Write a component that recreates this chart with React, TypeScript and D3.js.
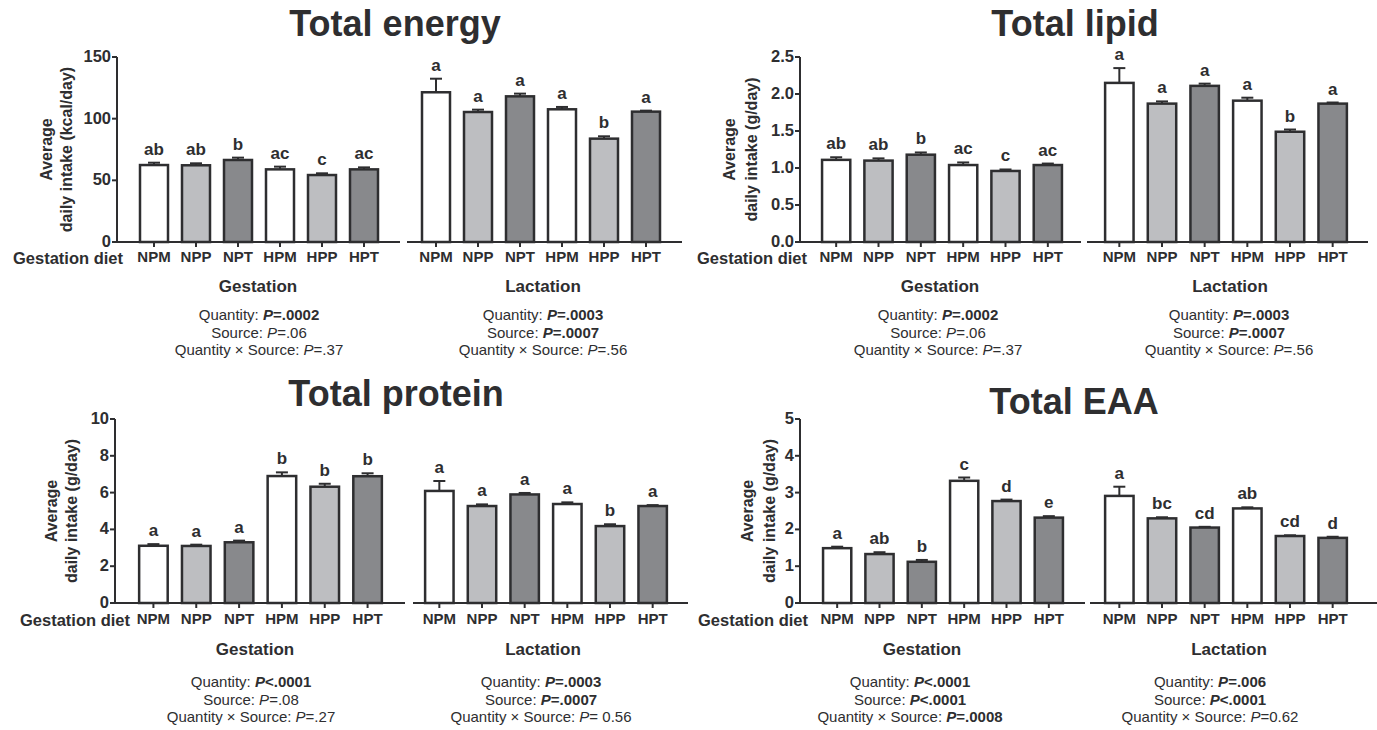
import React from "react";
import * as d3 from "d3";

// diet groups on the x axis
const categories = ["NPM", "NPP", "NPT", "HPM", "HPP", "HPT"];
const barFills = ["#ffffff", "#bdbec1", "#88898c", "#ffffff", "#bdbec1", "#88898c"];

// Total energy (kcal/day)
const energyGestMean = [62.4, 62.2, 66.5, 58.9, 54.3, 58.9];
const energyGestSem = [1.9, 1.6, 1.9, 2.2, 1.4, 1.6];
const energyGestLetters = ["ab", "ab", "b", "ac", "c", "ac"];
const energyLactMean = [121.4, 105.4, 118.1, 107.6, 83.8, 105.7];
const energyLactSem = [11.0, 1.9, 2.2, 1.9, 1.9, 0.8];
const energyLactLetters = ["a", "a", "a", "a", "b", "a"];
const energyTicks = [0, 50, 100, 150];

// Total lipid (g/day)
const lipidGestMean = [1.11, 1.1, 1.18, 1.04, 0.96, 1.04];
const lipidGestSem = [0.035, 0.03, 0.03, 0.035, 0.02, 0.02];
const lipidGestLetters = ["ab", "ab", "b", "ac", "c", "ac"];
const lipidLactMean = [2.15, 1.87, 2.11, 1.91, 1.49, 1.87];
const lipidLactSem = [0.2, 0.03, 0.03, 0.04, 0.03, 0.015];
const lipidLactLetters = ["a", "a", "a", "a", "b", "a"];
const lipidTicks = [0, 0.5, 1.0, 1.5, 2.0, 2.5];

// Total protein (g/day)
const proteinGestMean = [3.11, 3.1, 3.3, 6.9, 6.32, 6.89];
const proteinGestSem = [0.09, 0.07, 0.09, 0.2, 0.16, 0.16];
const proteinGestLetters = ["a", "a", "a", "b", "b", "b"];
const proteinLactMean = [6.09, 5.27, 5.9, 5.38, 4.18, 5.27];
const proteinLactSem = [0.54, 0.09, 0.08, 0.09, 0.1, 0.05];
const proteinLactLetters = ["a", "a", "a", "a", "b", "a"];
const proteinTicks = [0, 2, 4, 6, 8, 10];

// Total EAA (g/day)
const eaaGestMean = [1.49, 1.33, 1.12, 3.32, 2.77, 2.32];
const eaaGestSem = [0.04, 0.05, 0.05, 0.09, 0.04, 0.04];
const eaaGestLetters = ["a", "ab", "b", "c", "d", "e"];
const eaaLactMean = [2.91, 2.3, 2.05, 2.57, 1.82, 1.77];
const eaaLactSem = [0.25, 0.03, 0.02, 0.03, 0.02, 0.03];
const eaaLactLetters = ["a", "bc", "cd", "ab", "cd", "d"];
const eaaTicks = [0, 1, 2, 3, 4, 5];

// stats lines: [label, value after "P", significant]
const energyGestStats = [["Quantity:", "=.0002", true], ["Source:", "=.06", false], ["Quantity \u00d7 Source:", "=.37", false]];
const energyLactStats = [["Quantity:", "=.0003", true], ["Source:", "=.0007", true], ["Quantity \u00d7 Source:", "=.56", false]];
const lipidGestStats = [["Quantity:", "=.0002", true], ["Source:", "=.06", false], ["Quantity \u00d7 Source:", "=.37", false]];
const lipidLactStats = [["Quantity:", "=.0003", true], ["Source:", "=.0007", true], ["Quantity \u00d7 Source:", "=.56", false]];
const proteinGestStats = [["Quantity:", "<.0001", true], ["Source:", "=.08", false], ["Quantity \u00d7 Source:", "=.27", false]];
const proteinLactStats = [["Quantity:", "=.0003", true], ["Source:", "=.0007", true], ["Quantity \u00d7 Source:", "= 0.56", false]];
const eaaGestStats = [["Quantity:", "<.0001", true], ["Source:", "<.0001", true], ["Quantity \u00d7 Source:", "=.0008", true]];
const eaaLactStats = [["Quantity:", "=.006", true], ["Source:", "<.0001", true], ["Quantity \u00d7 Source:", "=0.62", false]];

const INK = "#2e2e30";
const FONT = "'Liberation Sans', Arial, Helvetica, sans-serif";

function Stats({ x, y, lines }) {
  return (
    <text x={x} y={y} textAnchor="middle" fontFamily={FONT} fontSize={15} fill={INK}>
      {lines.map((l, i) => (
        <tspan key={i} x={x} dy={i === 0 ? 0 : 17.5}>
          {l[0] + " "}
          <tspan fontStyle="italic" fontWeight={l[2] ? "bold" : "normal"}>P</tspan>
          <tspan fontWeight={l[2] ? "bold" : "normal"}>{l[1]}</tspan>
        </tspan>
      ))}
    </text>
  );
}

function Bars({ x, y, mean, sem, letters }) {
  return (
    <g>
      {categories.map((c, i) => {
        const bx = x(c);
        const bw = x.bandwidth();
        const cx = bx + bw / 2;
        const top = y(mean[i]);
        const errTop = y(mean[i] + sem[i]);
        return (
          <g key={c}>
            <line x1={cx} x2={cx} y1={top} y2={errTop} stroke={INK} strokeWidth={2} />
            <line x1={cx - 6} x2={cx + 6} y1={errTop} y2={errTop} stroke={INK} strokeWidth={2} />
            <rect x={bx} y={top} width={bw} height={y(0) - top} fill={barFills[i]} stroke={INK} strokeWidth={2.5} />
            <text x={cx} y={errTop - 8} textAnchor="middle" fontFamily={FONT} fontWeight="bold" fontSize={17} fill={INK}>
              {letters[i]}
            </text>
          </g>
        );
      })}
    </g>
  );
}

function XAxis({ x, y0, from, to, labelY }) {
  return (
    <g>
      <line x1={from} x2={to} y1={y0} y2={y0} stroke={INK} strokeWidth={2} />
      {categories.map((c) => {
        const cx = x(c) + x.bandwidth() / 2;
        return (
          <g key={c}>
            <line x1={cx} x2={cx} y1={y0} y2={y0 + 5} stroke={INK} strokeWidth={2} />
            <text x={cx} y={labelY} textAnchor="middle" fontFamily={FONT} fontWeight="bold" fontSize={15} fill={INK}>
              {c}
            </text>
          </g>
        );
      })}
    </g>
  );
}

function Panel({ p }) {
  const y = d3.scaleLinear().domain([p.ticks[0], p.ticks[p.ticks.length - 1]]).range([p.yBot, p.yTop]);
  const xg = d3.scaleBand().domain(categories).range(p.gestRange).paddingInner(1 / 3).paddingOuter(1 / 6);
  const xl = d3.scaleBand().domain(categories).range(p.lactRange).paddingInner(1 / 3).paddingOuter(1 / 6);
  const fmt = p.fmt ? d3.format(p.fmt) : (d) => String(d);
  const midY = (p.yTop + p.yBot) / 2;
  return (
    <g>
      <text x={p.titleX} y={p.titleY} textAnchor="middle" fontFamily={FONT} fontWeight="bold" fontSize={36} fill={INK}>
        {p.title}
      </text>
      {/* y axis */}
      <line x1={p.axisX} x2={p.axisX} y1={p.yTop} y2={p.yBot} stroke={INK} strokeWidth={2} />
      {p.ticks.map((t) => (
        <g key={t}>
          <line x1={p.axisX - 5} x2={p.axisX} y1={y(t)} y2={y(t)} stroke={INK} strokeWidth={2} />
          <text x={p.axisX - 6} y={y(t) + 5} textAnchor="end" fontFamily={FONT} fontWeight="bold" fontSize={16.5} fill={INK}>
            {fmt(t)}
          </text>
        </g>
      ))}
      <text transform={`translate(${p.ylabX[0]},${midY}) rotate(-90)`} textAnchor="middle" fontFamily={FONT} fontWeight="bold" fontSize={16} fill={INK}>
        Average
      </text>
      <text transform={`translate(${p.ylabX[1]},${midY}) rotate(-90)`} textAnchor="middle" fontFamily={FONT} fontWeight="bold" fontSize={16} fill={INK}>
        {p.unit}
      </text>
      <text x={p.gdRight} y={p.labelY + 2} textAnchor="end" fontFamily={FONT} fontWeight="bold" fontSize={16.5} fill={INK}>
        Gestation diet
      </text>
      <XAxis x={xg} y0={p.yBot} from={p.gestAxis[0]} to={p.gestAxis[1]} labelY={p.labelY} />
      <XAxis x={xl} y0={p.yBot} from={p.lactAxis[0]} to={p.lactAxis[1]} labelY={p.labelY} />
      <Bars x={xg} y={y} mean={p.gest[0]} sem={p.gest[1]} letters={p.gest[2]} />
      <Bars x={xl} y={y} mean={p.lact[0]} sem={p.lact[1]} letters={p.lact[2]} />
      <text x={p.subX[0]} y={p.subY} textAnchor="middle" fontFamily={FONT} fontWeight="bold" fontSize={17} fill={INK}>
        Gestation
      </text>
      <text x={p.subX[1]} y={p.subY} textAnchor="middle" fontFamily={FONT} fontWeight="bold" fontSize={17} fill={INK}>
        Lactation
      </text>
      <Stats x={p.statsX[0]} y={p.statsY} lines={p.stats[0]} />
      <Stats x={p.statsX[1]} y={p.statsY} lines={p.stats[1]} />
    </g>
  );
}

const panels = [
  {
    title: "Total energy", unit: "daily intake (kcal/day)", ticks: energyTicks,
    gest: [energyGestMean, energyGestSem, energyGestLetters], lact: [energyLactMean, energyLactSem, energyLactLetters],
    stats: [energyGestStats, energyLactStats],
    axisX: 117, yTop: 57, yBot: 242, gestRange: [133, 385], lactRange: [415, 667],
    gestAxis: [117, 400], lactAxis: [407, 682], titleX: 395, titleY: 36, ylabX: [52, 72],
    gdRight: 123, labelY: 262, subX: [258, 543], subY: 292, statsX: [259, 543], statsY: 320,
  },
  {
    title: "Total lipid", unit: "daily intake (g/day)", ticks: lipidTicks, fmt: ".1f",
    gest: [lipidGestMean, lipidGestSem, lipidGestLetters], lact: [lipidLactMean, lipidLactSem, lipidLactLetters],
    stats: [lipidGestStats, lipidLactStats],
    axisX: 800, yTop: 57, yBot: 242, gestRange: [815, 1069], lactRange: [1098, 1354],
    gestAxis: [800, 1081], lactAxis: [1087, 1368], titleX: 1075, titleY: 36, ylabX: [735, 757],
    gdRight: 807, labelY: 262, subX: [940, 1230], subY: 292, statsX: [938, 1229], statsY: 320,
  },
  {
    title: "Total protein", unit: "daily intake (g/day)", ticks: proteinTicks,
    gest: [proteinGestMean, proteinGestSem, proteinGestLetters], lact: [proteinLactMean, proteinLactSem, proteinLactLetters],
    stats: [proteinGestStats, proteinLactStats],
    axisX: 115, yTop: 419, yBot: 603, gestRange: [132, 389], lactRange: [418, 674],
    gestAxis: [115, 405], lactAxis: [413, 688], titleX: 396, titleY: 406, ylabX: [57, 77],
    gdRight: 130, labelY: 624, subX: [255, 543], subY: 655, statsX: [251, 541], statsY: 687,
  },
  {
    title: "Total EAA", unit: "daily intake (g/day)", ticks: eaaTicks,
    gest: [eaaGestMean, eaaGestSem, eaaGestLetters], lact: [eaaLactMean, eaaLactSem, eaaLactLetters],
    stats: [eaaGestStats, eaaLactStats],
    axisX: 800, yTop: 419, yBot: 603, gestRange: [816, 1070], lactRange: [1098, 1354],
    gestAxis: [800, 1085], lactAxis: [1090, 1377], titleX: 1074, titleY: 414, ylabX: [753, 775],
    gdRight: 808, labelY: 624, subX: [922, 1229], subY: 655, statsX: [910, 1210], statsY: 687,
  },
];

export default function App() {
  return (
    <svg width={1377} height={730} style={{ position: "absolute", left: 0, top: 0, background: "#fff" }}>
      <rect width={1377} height={730} fill="#fff" />
      {panels.map((p) => (
        <Panel key={p.title} p={p} />
      ))}
    </svg>
  );
}
